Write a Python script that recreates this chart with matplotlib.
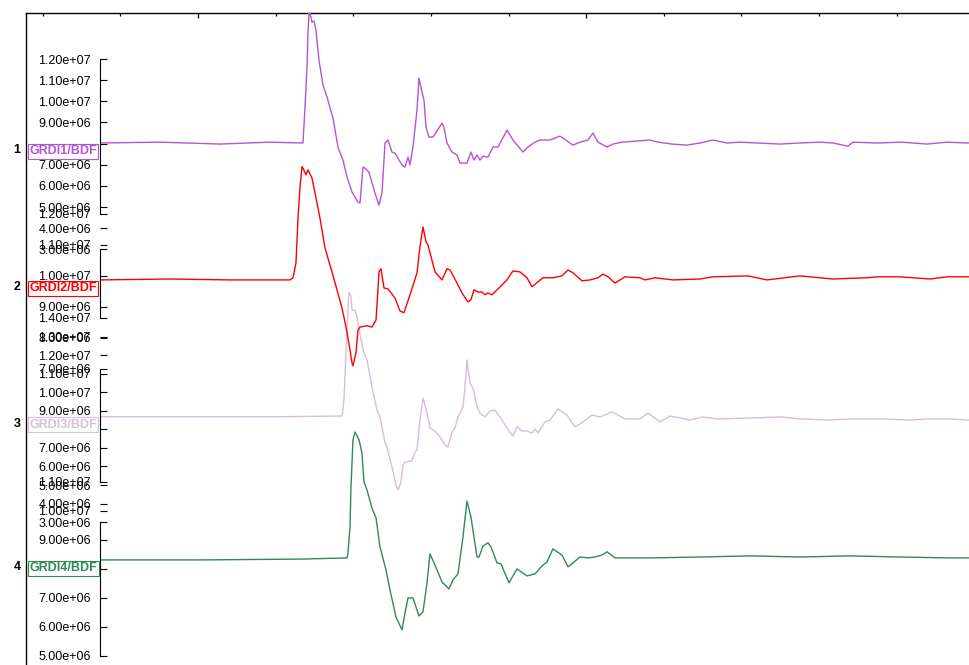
import numpy as np
import matplotlib
matplotlib.use('Agg')
import matplotlib.pyplot as plt
import matplotlib.transforms as mtransforms
from matplotlib.ticker import MultipleLocator, FixedLocator, FuncFormatter

plt.rcParams['font.family'] = ['Liberation Sans', 'DejaVu Sans']

# station names and trace colours
names = ['GRDI1/BDF', 'GRDI2/BDF', 'GRDI3/BDF', 'GRDI4/BDF']
colors = ['#b455d3', '#ff0000', '#d8bfd8', '#2e8b57']

# time (frame minor tick = 1 unit), amplitude in units of 1e6
t1 = [3.738, 4.511, 5.283, 5.927, 6.352, 6.378, 6.404, 6.417, 6.430, 6.443, 6.468, 6.494,
      6.520, 6.558, 6.610, 6.662, 6.739, 6.803, 6.868, 6.919, 6.984, 7.061, 7.087, 7.125,
      7.151, 7.202, 7.280, 7.331, 7.370, 7.409, 7.447, 7.499, 7.537, 7.628, 7.666, 7.705,
      7.731, 7.769, 7.821, 7.846, 7.885, 7.911, 7.937, 7.975, 8.027, 8.143, 8.168, 8.207,
      8.272, 8.336, 8.375, 8.465, 8.516, 8.555, 8.594, 8.632, 8.671, 8.735, 8.800, 8.864,
      8.980, 9.057, 9.186, 9.250, 9.341, 9.405, 9.534, 9.663, 9.830, 9.920, 10.023, 10.088,
      10.152, 10.268, 10.345, 10.461, 10.822, 10.925, 11.105, 11.298, 11.466, 11.633, 11.813,
      11.981, 12.200, 12.496, 12.754, 13.011, 13.179, 13.372, 13.436, 13.745, 14.068, 14.389,
      14.647, 14.905, 15.0]
v1 = [8.03, 8.07, 7.98, 8.07, 8.03, 9.68, 11.62, 13.23, 14.18, 14.18, 13.75, 13.80,
      13.37, 11.95, 10.77, 10.20, 9.21, 7.84, 7.22, 6.42, 5.71, 5.24, 5.19, 6.89,
      6.84, 6.65, 5.66, 5.09, 5.66, 8.03, 8.17, 7.60, 7.55, 6.99, 6.89, 7.36,
      6.99, 7.84, 9.59, 11.10, 10.44, 10.06, 8.78, 8.31, 8.31, 8.97, 8.78, 8.03,
      7.60, 7.46, 7.08, 7.08, 7.60, 7.22, 7.46, 7.22, 7.41, 7.36, 7.84, 7.84,
      8.64, 8.17, 7.60, 7.84, 8.07, 8.17, 8.17, 8.36, 7.93, 8.07, 8.17, 8.50,
      8.07, 7.84, 7.98, 8.07, 8.17, 8.07, 7.98, 7.93, 8.03, 8.17, 8.03,
      8.07, 8.03, 7.98, 8.03, 8.07, 8.03, 7.88, 8.07, 8.03, 8.07, 7.98,
      8.07, 8.03, 8.05]

t2 = [3.738, 4.639, 5.412, 6.185, 6.224, 6.262, 6.288, 6.314, 6.340, 6.352, 6.391, 6.417,
      6.468, 6.507, 6.546, 6.571, 6.636, 6.726, 6.790, 6.855, 6.919, 6.958, 6.984, 6.996,
      7.035, 7.061, 7.087, 7.177, 7.241, 7.293, 7.318, 7.331, 7.357, 7.396, 7.447, 7.537,
      7.602, 7.653, 7.731, 7.821, 7.859, 7.898, 7.937, 7.962, 8.053, 8.143, 8.207, 8.246,
      8.336, 8.400, 8.478, 8.516, 8.555, 8.606, 8.658, 8.697, 8.735, 8.787, 8.851, 8.980,
      9.057, 9.147, 9.238, 9.302, 9.379, 9.444, 9.572, 9.688, 9.766, 9.830, 9.946, 10.049,
      10.152, 10.216, 10.281, 10.371, 10.500, 10.693, 10.757, 10.886, 11.118, 11.466, 11.633,
      12.084, 12.329, 12.754, 13.179, 13.617, 13.758, 14.042, 14.428, 14.647, 14.905, 15.0]
v2 = [9.87, 9.90, 9.87, 9.87, 9.94, 10.42, 11.84, 12.87, 13.52, 13.48, 13.26, 13.42,
      13.16, 12.68, 12.19, 11.87, 10.90, 10.13, 9.55, 8.97, 8.19, 7.61, 7.19, 7.10,
      7.52, 8.26, 8.35, 8.39, 8.35, 8.58, 9.55, 10.13, 10.23, 9.61, 9.58, 9.29,
      8.87, 8.81, 9.39, 10.10, 10.94, 11.58, 11.10, 11.00, 10.13, 9.87, 10.23, 10.19,
      9.77, 9.45, 9.16, 9.23, 9.55, 9.48, 9.48, 9.39, 9.45, 9.39, 9.55, 9.87,
      10.16, 10.13, 9.94, 9.65, 9.81, 9.94, 9.94, 10.00, 10.19, 10.10, 9.84, 9.87,
      9.94, 10.06, 9.97, 9.77, 9.97, 9.94, 9.87, 9.94, 9.87, 9.90, 9.97,
      10.00, 9.87, 10.00, 9.90, 9.94, 9.97, 9.97, 9.90, 9.97, 9.97, 9.97]

t3 = [3.738, 5.026, 6.056, 6.855, 6.880, 6.906, 6.932, 6.945, 6.971, 6.984, 7.022, 7.048,
      7.087, 7.138, 7.177, 7.241, 7.305, 7.344, 7.409, 7.434, 7.499, 7.550, 7.576, 7.615,
      7.640, 7.666, 7.756, 7.795, 7.821, 7.859, 7.898, 7.950, 7.988, 8.053, 8.117, 8.181,
      8.220, 8.272, 8.310, 8.349, 8.413, 8.439, 8.465, 8.503, 8.542, 8.594, 8.632, 8.697,
      8.761, 8.825, 8.916, 8.980, 9.057, 9.109, 9.173, 9.238, 9.302, 9.341, 9.379, 9.469,
      9.534, 9.637, 9.753, 9.856, 9.959, 10.075, 10.178, 10.332, 10.500, 10.693, 10.796,
      10.951, 11.079, 11.337, 11.504, 11.685, 12.110, 12.496, 12.754, 13.102, 13.398,
      13.823, 14.171, 14.389, 14.686, 14.905, 15.0]
v3 = [8.68, 8.68, 8.68, 8.72, 9.58, 12.11, 14.43, 15.40, 15.13, 14.43, 14.43, 14.05,
      13.08, 12.11, 11.74, 10.28, 9.04, 8.67, 7.27, 7.05, 5.97, 5.00, 4.73, 5.16,
      6.08, 6.24, 6.30, 6.78, 6.89, 8.50, 9.69, 8.88, 8.07, 7.91, 7.59, 7.16,
      7.05, 7.86, 8.07, 8.67, 9.20, 10.28, 11.74, 10.50, 10.23, 9.20, 8.88, 8.67,
      8.99, 9.04, 8.50, 8.07, 7.64, 8.13, 7.91, 7.91, 7.80, 8.02, 7.80, 8.40,
      8.50, 9.10, 8.77, 8.13, 8.40, 8.77, 8.67, 8.94, 8.56, 8.56, 8.88,
      8.40, 8.72, 8.50, 8.67, 8.56, 8.61, 8.67, 8.56, 8.50, 8.56,
      8.56, 8.50, 8.56, 8.56, 8.50, 8.50]

t4 = [3.738, 5.026, 6.352, 6.919, 6.932, 6.958, 6.971, 6.996, 7.022, 7.074, 7.112, 7.138,
      7.177, 7.241, 7.293, 7.344, 7.421, 7.473, 7.550, 7.628, 7.666, 7.705, 7.769, 7.846,
      7.898, 7.950, 7.988, 8.040, 8.143, 8.233, 8.284, 8.349, 8.413, 8.465, 8.516, 8.594,
      8.619, 8.671, 8.735, 8.774, 8.851, 8.903, 9.006, 9.109, 9.238, 9.341, 9.431, 9.495,
      9.572, 9.688, 9.766, 9.830, 9.920, 10.023, 10.113, 10.204, 10.268, 10.371, 10.564,
      10.822, 11.466, 12.110, 12.754, 13.398, 14.042, 14.686, 15.0]
v4 = [8.31, 8.31, 8.34, 8.38, 8.55, 9.45, 10.83, 12.45, 12.72, 12.45, 12.00, 11.00,
      10.72, 10.10, 9.76, 8.76, 7.97, 7.28, 6.34, 5.90, 6.48, 7.00, 7.00, 6.38,
      6.52, 7.52, 8.52, 8.21, 7.55, 7.31, 7.62, 7.83, 9.10, 10.34, 9.79, 8.41,
      8.41, 8.79, 8.90, 8.76, 8.21, 8.17, 7.52, 8.00, 7.76, 7.83, 8.10, 8.24,
      8.69, 8.48, 8.07, 8.21, 8.41, 8.38, 8.41, 8.48, 8.59, 8.38, 8.38,
      8.38, 8.41, 8.45, 8.41, 8.45, 8.41, 8.38, 8.38]

# y-axis tick values shown for each trace (units of 1e6)
ticks1 = [3, 4, 5, 6, 7, 8, 9, 10, 11, 12]
ticks2 = [7, 8, 9, 10, 11, 12]
ticks3 = [3, 4, 5, 6, 7, 8, 9, 10, 11, 12, 13, 14]
ticks4 = [5, 6, 7, 8, 9, 10, 11]

times = [t1, t2, t3, t4]
values = [v1, v2, v3, v4]
tick_sets = [ticks1, ticks2, ticks3, ticks4]
ylims = [(-18.32, 14.18), (-3.68, 18.48), (-6.58, 30.43), (3.48, 27.17)]
hidden = [8, None, 8, 8]   # label covered by the station box

W, H = 969, 665
fig = plt.figure(figsize=(W / 100, H / 100), dpi=100)

bot = (H - 700) / H
hgt = (700 - 13) / H
frame = fig.add_axes([26 / W, bot, (1000 - 26) / W, hgt])
frame.set_xlim(2.785, 15.33)
frame.set_ylim(0, 1)
frame.xaxis.tick_top()
frame.xaxis.set_major_locator(MultipleLocator(5))
frame.xaxis.set_minor_locator(MultipleLocator(1))
frame.tick_params(axis='x', which='major', direction='in', length=3.5, width=0.9, labeltop=False)
frame.tick_params(axis='x', which='minor', direction='in', length=1.8, width=0.9)
frame.set_yticks([])
for s in ['right', 'bottom']:
    frame.spines[s].set_visible(False)
for s in ['top', 'left']:
    frame.spines[s].set_linewidth(1.0)

axes = []
for i in range(4):
    ax = fig.add_axes([100 / W, bot, (1000 - 100) / W, hgt])
    ax.patch.set_visible(False)
    ax.set_xlim(3.738, 15.33)
    ax.set_ylim(ylims[i][0] * 1e6, ylims[i][1] * 1e6)
    ax.set_xticks([])
    for s in ['right', 'bottom', 'top']:
        ax.spines[s].set_visible(False)
    ax.spines['left'].set_linewidth(0.8)
    ax.yaxis.set_major_locator(FixedLocator([v * 1e6 for v in tick_sets[i]]))
    hv = hidden[i]
    ax.yaxis.set_major_formatter(FuncFormatter(
        lambda y, p, hv=hv: '' if hv is not None and abs(y - hv * 1e6) < 1 else '%.2e' % y))
    ax.tick_params(axis='y', direction='in', length=5, width=0.8, pad=6.5, labelsize=9)
    ax.plot(np.array(times[i]), np.array(values[i]) * 1e6, color=colors[i], lw=1.0)
    axes.append(ax)

# trace 2 drawn above trace 3 etc.
for i, ax in enumerate(axes):
    ax.set_zorder(10 - i)

# axis lines cancel where neighbouring tick ranges overlap
spans = []
for ax, tk in zip(axes, tick_sets):
    lo = ax.transData.transform((0, min(tk) * 1e6))[1]
    hi = ax.transData.transform((0, max(tk) * 1e6))[1]
    spans.append((lo, hi))
for i, ax in enumerate(axes):
    lo, hi = spans[i]
    if i > 0:
        hi = min(hi, spans[i - 1][0])
    if i < 3:
        lo = max(lo, spans[i + 1][1])
    inv = ax.transData.inverted()
    ax.spines['left'].set_bounds(inv.transform((0, lo))[1], inv.transform((0, hi))[1])

# trace numbers and station boxes
for i, ax in enumerate(axes):
    tr = mtransforms.blended_transform_factory(frame.transAxes, ax.transData)
    base = values[i][0] * 1e6
    ax.annotate(str(i + 1), xy=(-9 / 974, base), xycoords=tr, xytext=(0, -5),
                textcoords='offset points', ha='center', va='center',
                fontsize=9, fontweight='bold', color='black', annotation_clip=False)
    ax.annotate(names[i], xy=(0, base), xycoords=tr, xytext=(2.4, -1.6),
                textcoords='offset points', ha='left', va='top',
                fontsize=9, fontweight='bold', color=colors[i], annotation_clip=False,
                bbox=dict(boxstyle='square,pad=0.12', fc='white', ec=colors[i], lw=0.8))

fig.savefig('out.png', dpi=100)
